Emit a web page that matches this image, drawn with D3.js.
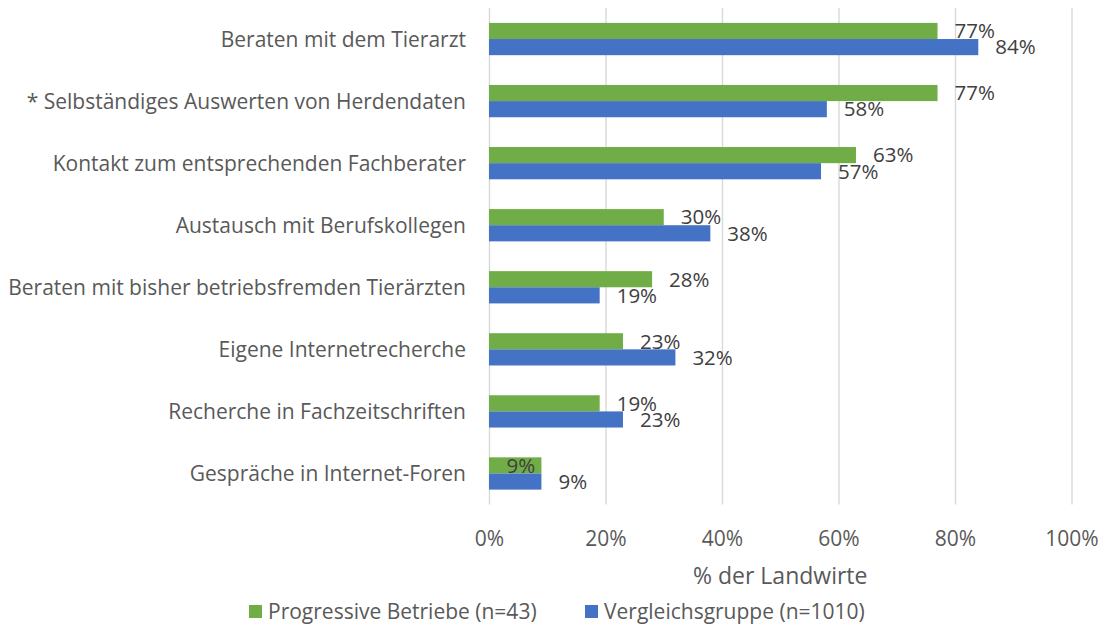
<!DOCTYPE html>
<html>
<head>
<meta charset="utf-8">
<script src="https://cdn.jsdelivr.net/npm/d3@7"></script>
<style>
  body { margin: 0; background: #fff; }
  svg text { font-family: "Open Sans", sans-serif; fill: #595959; }
</style>
</head>
<body>
<svg id="chart" width="1103" height="626"></svg>
<script>
// Informationsquellen, Anteil der Landwirte in %
const categories = [
  "Beraten mit dem Tierarzt",
  "* Selbständiges Auswerten von Herdendaten",
  "Kontakt zum entsprechenden Fachberater",
  "Austausch mit Berufskollegen",
  "Beraten mit bisher betriebsfremden Tierärzten",
  "Eigene Internetrecherche",
  "Recherche in Fachzeitschriften",
  "Gespräche in Internet-Foren"
];
const progressive = [77, 77, 63, 30, 28, 23, 19, 9];
const vergleich   = [84, 58, 57, 38, 19, 32, 23, 9];
const seriesNames = ["Progressive Betriebe (n=43)", "Vergleichsgruppe (n=1010)"];
const xTicks = [0, 20, 40, 60, 80, 100];
const axisTitle = "% der Landwirte";

const colors = ["#70AD47", "#4472C4"];

const svg = d3.select("#chart");
const plot = { left: 489, right: 1071.5, top: 8, bottom: 504.5 };

const x = d3.scaleLinear().domain([0, 100]).range([plot.left, plot.right]);
const y = d3.scaleBand().domain(categories).range([plot.top, plot.bottom])
  .paddingInner(0.48).paddingOuter(0.24);
const ySub = d3.scaleBand().domain([0, 1]).range([0, y.bandwidth()]);

// gridlines + tick labels
const axis = svg.append("g")
  .attr("transform", `translate(0,${plot.bottom})`)
  .call(d3.axisBottom(x).tickValues(xTicks).tickFormat(d => d + "%")
    .tickSize(-(plot.bottom - plot.top)).tickPadding(0));
axis.select(".domain").remove();
axis.selectAll(".tick line").attr("stroke", "#D9D9D9").attr("stroke-width", 1.4);
axis.selectAll(".tick text")
  .attr("y", 41).attr("dy", null)
  .style("font-size", "21px")
  .style("font-family", '"Open Sans", sans-serif')
  .attr("fill", "#595959");

// category labels
svg.append("g").selectAll("text")
  .data(categories).join("text")
  .attr("x", 466)
  .attr("y", d => y(d) + y.bandwidth() / 2 + 7.5)
  .attr("text-anchor", "end")
  .style("font-size", "21px")
  .text(d => d);

const rows = categories.map((c, i) => ({ cat: c, values: [progressive[i], vergleich[i]] }));

// bars
const groups = svg.append("g").selectAll("g")
  .data(rows).join("g")
  .attr("transform", d => `translate(0,${y(d.cat)})`);

groups.selectAll("rect")
  .data(d => d.values.map((v, s) => ({ v, s, cat: d.cat })))
  .join("rect")
  .attr("x", x(0))
  .attr("y", d => ySub(d.s))
  .attr("width", d => x(d.v) - x(0))
  .attr("height", ySub.bandwidth())
  .attr("fill", d => colors[d.s]);

// value labels (one label sits inside its short bar)
const labelShift = { "Gespräche in Internet-Foren|0": -52 };
groups.selectAll("text.val")
  .data(d => d.values.map((v, s) => ({ v, s, cat: d.cat })))
  .join("text")
  .attr("class", "val")
  .attr("x", d => x(d.v) + 17 + (labelShift[d.cat + "|" + d.s] || 0))
  .attr("y", d => ySub(d.s) + ySub.bandwidth() / 2 + 7.3)
  .style("font-size", "20.5px")
  .style("fill", "#404040")
  .text(d => d.v + "%");

// axis title
svg.append("text")
  .attr("x", (plot.left + plot.right) / 2)
  .attr("y", 584)
  .attr("text-anchor", "middle")
  .style("font-size", "23px")
  .text(axisTitle);

// legend
const legendX = [249, 585];
const legend = svg.append("g").selectAll("g")
  .data(seriesNames).join("g")
  .attr("transform", (d, i) => `translate(${legendX[i]},0)`);
legend.append("rect")
  .attr("x", 0).attr("y", 605).attr("width", 13).attr("height", 13)
  .attr("fill", (d, i) => colors[i]);
legend.append("text")
  .attr("x", 19).attr("y", 619)
  .style("font-size", "21px")
  .text(d => d);
</script>
</body>
</html>
